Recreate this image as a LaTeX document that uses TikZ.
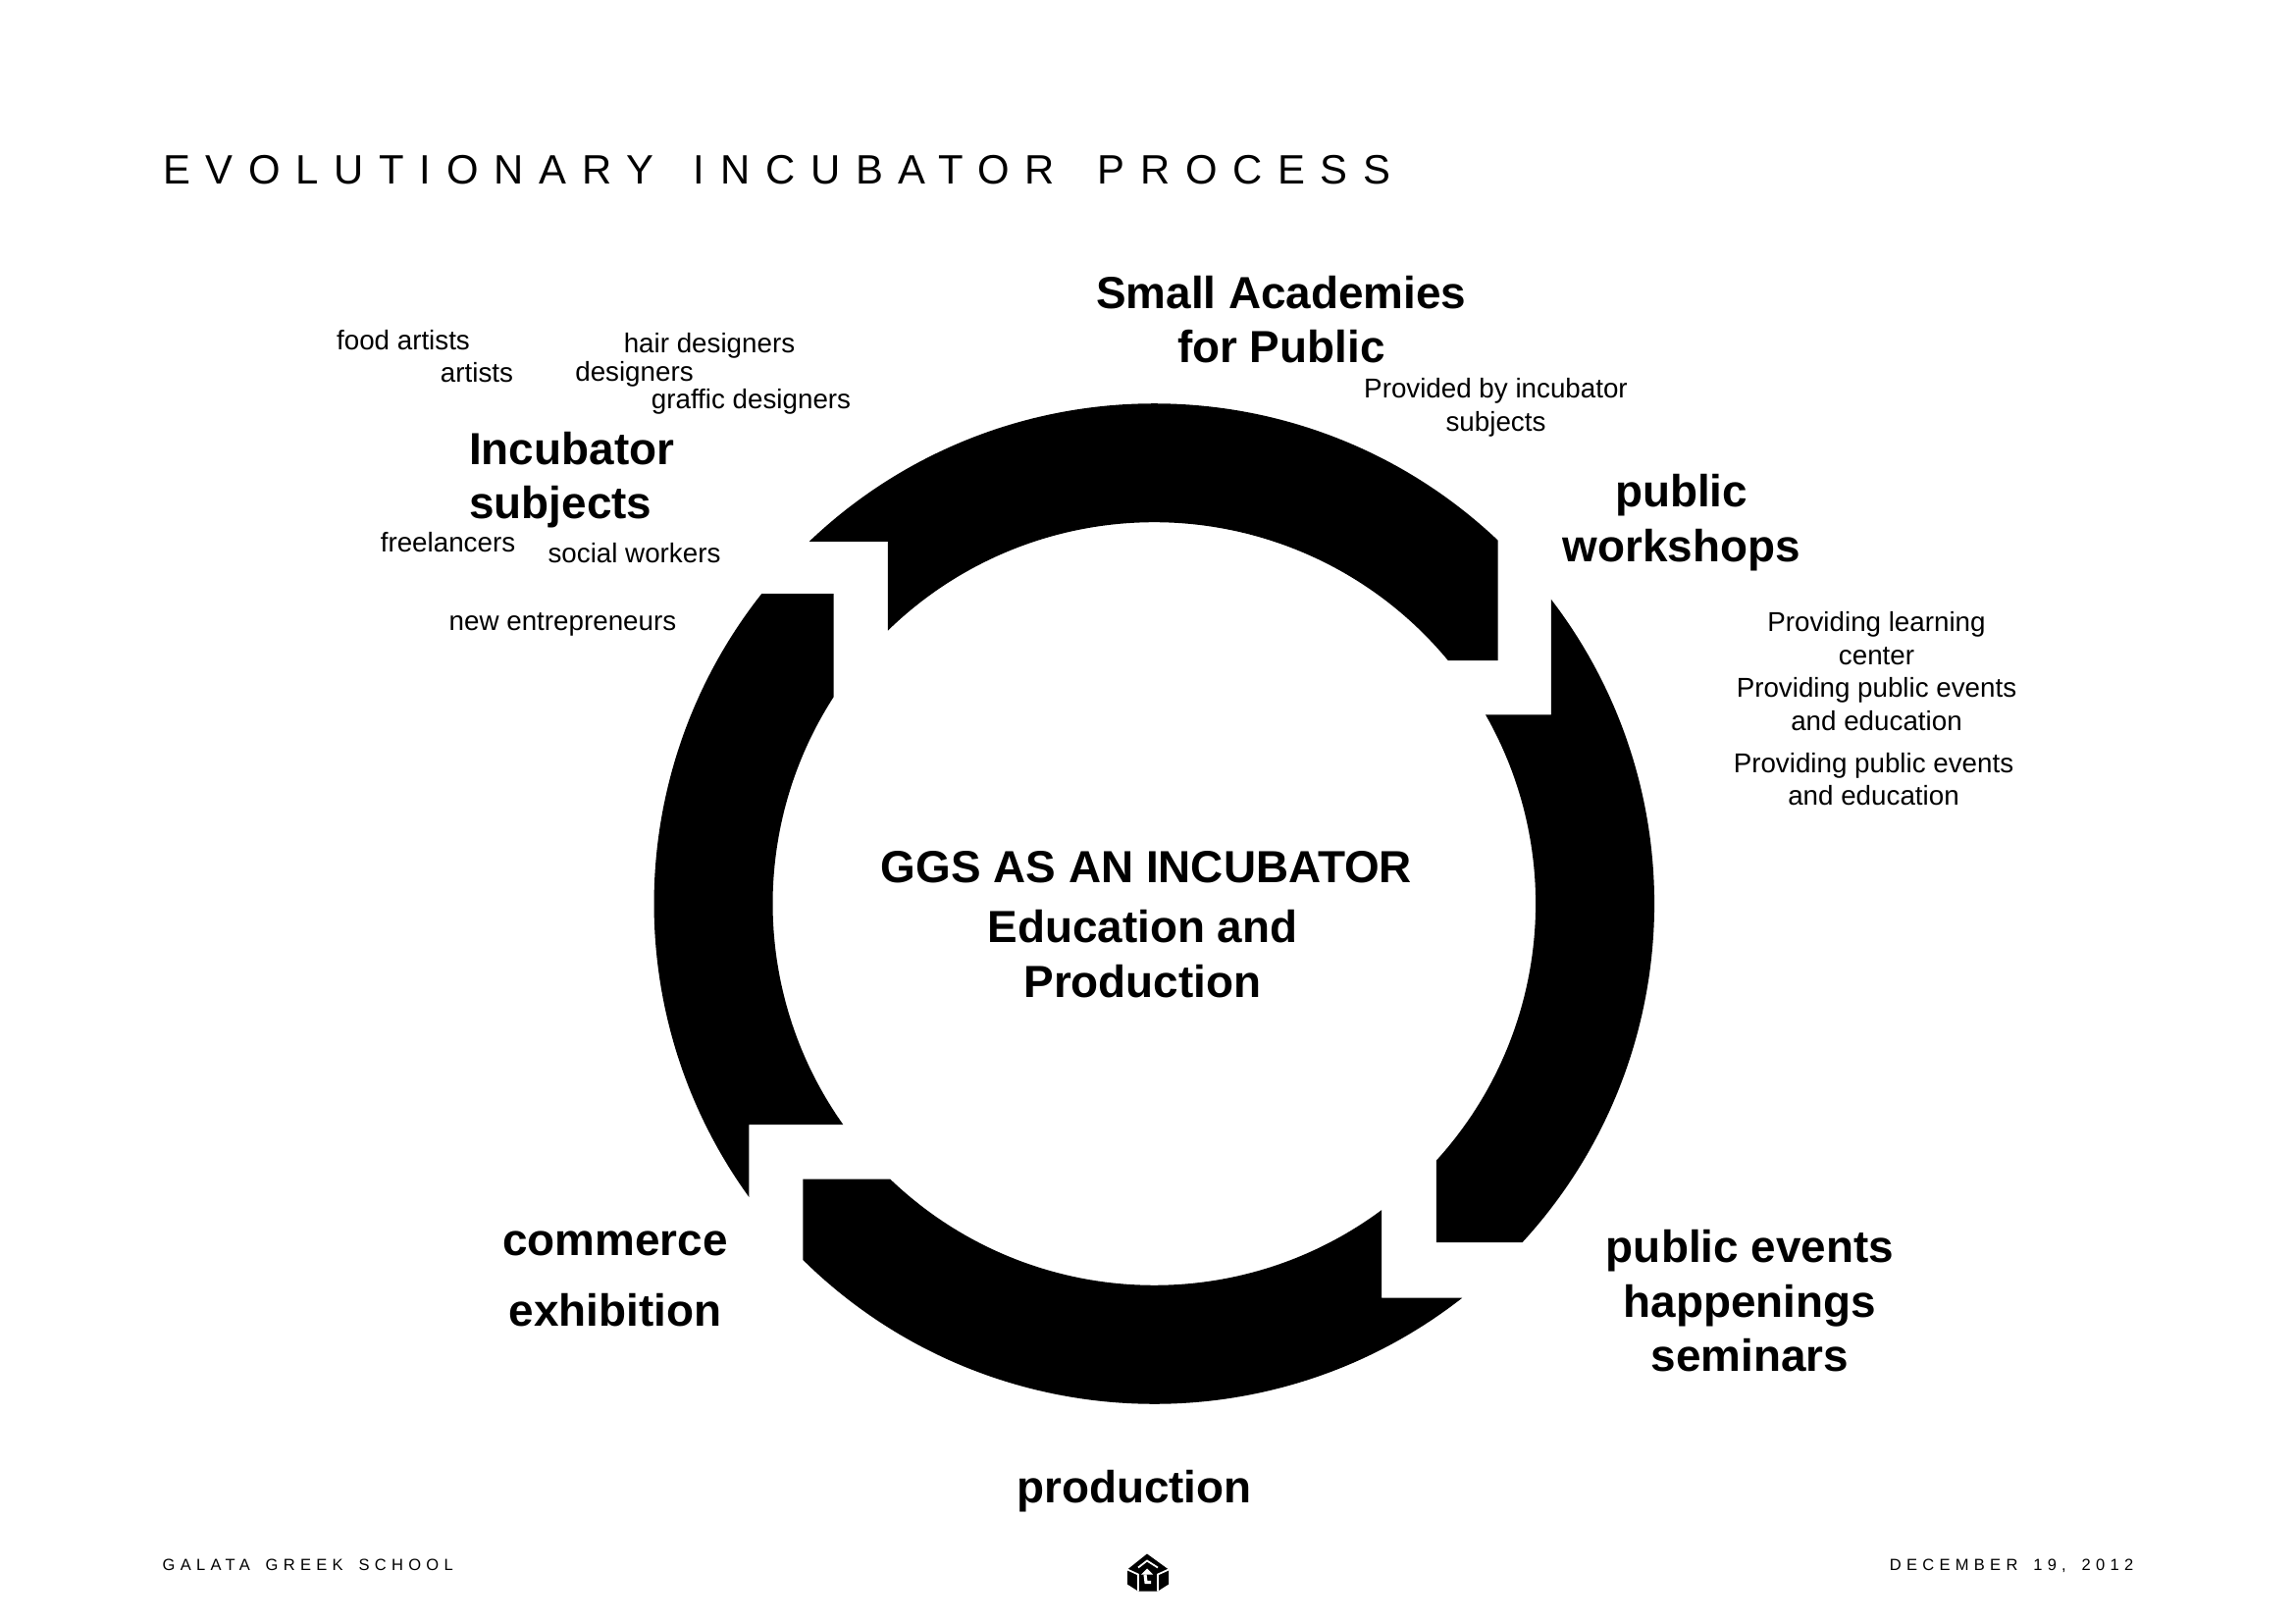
\documentclass[tikz,border=0pt]{standalone}
\usepackage{fontspec}
\setmainfont{Liberation Sans}
\newfontfamily\titlefont[LetterSpace=37.6]{Liberation Sans}
\newfontfamily\footfont[LetterSpace=32]{Liberation Sans}
\tikzset{
  bigtext/.style={inner sep=0pt,align=center,font=\fontsize{13.05}{15.8}\selectfont\bfseries},
  smalltext/.style={inner sep=0pt,align=center,font=\fontsize{7.9}{9.6}\selectfont},
  titletext/.style={inner sep=0pt,anchor=base west,font=\fontsize{11.9}{14}\titlefont},
  foottext/.style={inner sep=0pt,font=\fontsize{4.7}{6}\footfont},
}
\newcommand{\ro}{5.098}
\newcommand{\ri}{3.888}
\begin{document}
\begin{tikzpicture}
\useasboundingbox (0,0) rectangle (23.39,16.54);
\coordinate (c) at (11.763,7.33);

% the four ring arrows
\fill ([shift={(133.6:\ro)}]c) arc[start angle=133.6,end angle=46.6,radius=\ro]
  |- ([shift={(39.6:\ri)}]c) arc[start angle=39.6,end angle=134.3,radius=\ri]
  |- ([shift={(133.6:\ro)}]c) -- cycle;
\fill ([shift={(37.5:\ro)}]c) arc[start angle=37.5,end angle=-42.6,radius=\ro]
  -| ([shift={(-42.3:\ri)}]c) arc[start angle=-42.3,end angle=29.7,radius=\ri]
  -| ([shift={(37.5:\ro)}]c) -- cycle;
\fill ([shift={(-52:\ro)}]c) arc[start angle=-52,end angle=-134.6,radius=\ro]
  |- ([shift={(-133.8:\ri)}]c) arc[start angle=-133.8,end angle=-53.4,radius=\ri]
  |- ([shift={(-52:\ro)}]c) -- cycle;
\fill ([shift={(215.9:\ro)}]c) arc[start angle=215.9,end angle=141.7,radius=\ro]
  -| ([shift={(147.2:\ri)}]c) arc[start angle=147.2,end angle=215.4,radius=\ri]
  -| ([shift={(215.9:\ro)}]c) -- cycle;

\node[titletext] (title) at (1.656,14.665) {EVOLUTIONARY\hspace{0.134cm} INCUBATOR\hspace{0.16cm} PROCESS};

\node[bigtext] (academies) at (13.058,13.285) {Small Academies\\for Public};
\node[smalltext] (provided) at (15.245,12.385) {Provided by incubator\\subjects};
\node[bigtext] (workshops) at (17.135,11.215) {public\\workshops};
\node[smalltext] (learning) at (19.125,9.70) {Providing learning\\center\\Providing public events\\and education};
\node[smalltext] (events) at (19.095,8.60) {Providing public events\\and education};
\node[bigtext] (happenings) at (17.835,3.28) {public events\\happenings\\seminars};
\node[bigtext] (production) at (11.56,1.345) {production};
\node[bigtext] (commerce) at (6.27,3.865) {commerce};
\node[bigtext] (exhibition) at (6.27,3.19) {exhibition};

\node[bigtext,align=left,anchor=west] (subjects) at (4.775,11.65) {Incubator\\subjects};
\node[smalltext] (food) at (4.11,13.075) {food artists};
\node[smalltext] (artists) at (4.86,12.745) {artists};
\node[smalltext] (hair) at (7.23,13.015) {hair designers};
\node[smalltext] (designers) at (6.465,12.73) {designers};
\node[smalltext] (graffic) at (7.655,12.445) {graffic designers};
\node[smalltext] (freelancers) at (4.565,11.015) {freelancers};
\node[smalltext] (social) at (6.465,10.90) {social workers};
\node[smalltext] (entrepreneurs) at (5.735,10.18) {new entrepreneurs};

\node[bigtext] (ggs) at (11.685,7.70) {GGS AS AN INCUBATOR};
\node[bigtext] (education) at (11.645,6.82) {Education and\\Production};

\node[foottext,anchor=base west] (school) at (1.65,0.535) {GALATA\hspace{0.06cm} GREEK\hspace{0.06cm} SCHOOL};
\node[foottext,anchor=base east] (date) at (21.75,0.535) {DECEMBER\hspace{0.06cm} 19,\hspace{0.06cm} 2012};

% logo
\begin{scope}[xshift=11.69cm,yshift=0.385cm,scale=0.01]
\fill (0,32) -- (-20,16) -- (-20,1) -- (-9,-6) -- (11,-6) -- (22,1) -- (22,16) -- cycle;
\draw[white,line width=0.5pt] (-20,16) -- (-9,11) -- (-9,-6) (22,16) -- (11,11) -- (11,-6);
\draw[white,line width=0.5pt] (-9,18) -- (0,25) -- (11,18);
\fill[white] (-6,11) -- (0,17) -- (6,11) -- cycle;
\draw[white,line width=0.9pt] (-2,11) -- (-1,3) -- (4,3);
\end{scope}

\end{tikzpicture}
\end{document}
